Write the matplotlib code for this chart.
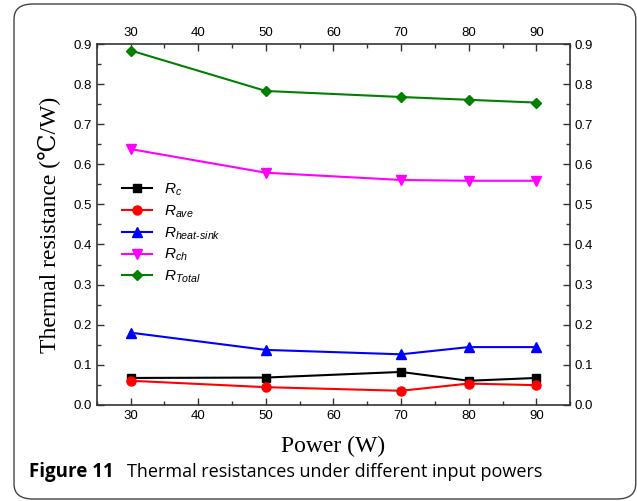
import matplotlib
matplotlib.use("Agg")
import matplotlib.pyplot as plt
from matplotlib.patches import FancyBboxPatch
from matplotlib.ticker import MultipleLocator, FormatStrFormatter

# ===== DATA =====
power = [30, 50, 70, 80, 90]
r_c = [0.067, 0.068, 0.082, 0.060, 0.067]
r_ave = [0.060, 0.044, 0.035, 0.053, 0.049]
r_heat_sink = [0.180, 0.137, 0.126, 0.144, 0.144]
r_ch = [0.638, 0.579, 0.561, 0.559, 0.559]
r_total = [0.884, 0.783, 0.768, 0.761, 0.754]

labels = [r'$R_{c}$', r'$R_{ave}$', r'$R_{heat\text{-}sink}$', r'$R_{ch}$', r'$R_{Total}$']

# ===== STYLE =====
plt.rcParams['mathtext.fontset'] = 'custom'
plt.rcParams['mathtext.it'] = 'Liberation Sans:italic'
plt.rcParams['mathtext.rm'] = 'Liberation Sans'
plt.rcParams['font.family'] = 'Liberation Sans'

serif = ['Liberation Serif', 'DejaVu Serif', 'DejaVu Sans']

fig = plt.figure(figsize=(6.37, 5.01), dpi=100)
ax = fig.add_axes([0.152, 0.192, 0.743, 0.720])

series = [
    (r_c, 'black', 's', 6),
    (r_ave, 'red', 'o', 6.5),
    (r_heat_sink, 'blue', '^', 7),
    (r_ch, 'magenta', 'v', 7),
    (r_total, 'green', 'D', 5.5),
]
for (vals, col, mk, ms), lab in zip(series, labels):
    ax.plot(power, vals, color=col, marker=mk, markersize=ms,
            linewidth=1.5, label=lab)

ax.set_xlim(25, 95)
ax.set_ylim(0, 0.9)
ax.xaxis.set_major_locator(MultipleLocator(10))
ax.xaxis.set_minor_locator(MultipleLocator(5))
ax.yaxis.set_major_locator(MultipleLocator(0.1))
ax.yaxis.set_minor_locator(MultipleLocator(0.05))
ax.yaxis.set_major_formatter(FormatStrFormatter('%.1f'))
ax.tick_params(which='both', direction='in', top=True, right=True,
               labeltop=True, labelright=True, labelsize=9.5, width=1,
               colors='#333333', labelcolor='black')
ax.tick_params(which='major', length=5)
ax.tick_params(which='minor', length=3)
for s in ax.spines.values():
    s.set_linewidth(1.2)
    s.set_color('#333333')

ax.set_xlabel('Power (W)', family=serif, fontsize=17, labelpad=10)
ax.set_ylabel('Thermal resistance (\u2103/W)', family=serif, fontsize=17, labelpad=10)

ax.legend(loc='upper left', bbox_to_anchor=(0.03, 0.648), frameon=False,
          fontsize=11, handlelength=2.0, labelspacing=0.35, borderpad=0.2)

# ===== CAPTION BOX =====
box = FancyBboxPatch((0.022, 0.004), 0.976, 0.988, transform=fig.transFigure,
                     boxstyle='round,pad=0,rounding_size=0.03', facecolor='none',
                     edgecolor='#444444', linewidth=1.0)
fig.patches.append(box)

fig.text(0.046, 0.057, 'Figure 11', fontfamily='Open Sans', fontweight='bold', fontsize=13.5,
         va='center', ha='left')
fig.text(0.2, 0.057, 'Thermal resistances under different input powers',
         fontfamily='Open Sans', fontsize=13, va='center', ha='left')

fig.savefig('out.png', dpi=100)
